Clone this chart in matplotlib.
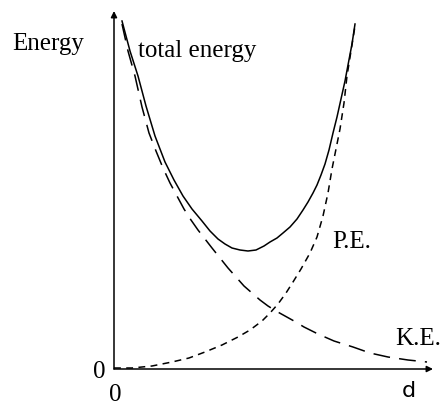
import matplotlib.pyplot as plt

# curves (d, energy)
ke_d = [0.08, 0.14, 0.21, 0.28, 0.35, 0.42, 0.49, 0.56, 0.63, 0.70, 0.77, 0.84, 0.91,
        0.98, 1.06, 1.14, 1.22, 1.30, 1.38, 1.46, 1.54, 1.62, 1.71, 1.80, 1.90, 2.04,
        2.20, 2.39, 2.56, 2.74, 2.94, 3.13]
ke_e = [3.45, 3.18, 2.93, 2.62, 2.36, 2.18, 2.01, 1.86, 1.73, 1.60, 1.49, 1.39, 1.30,
        1.21, 1.11, 1.01, 0.92, 0.83, 0.76, 0.69, 0.63, 0.58, 0.53, 0.48, 0.42, 0.35,
        0.28, 0.22, 0.16, 0.12, 0.09, 0.07]

pe_d = [0.00, 0.18, 0.38, 0.58, 0.75, 0.91, 1.08, 1.24, 1.36, 1.48, 1.56, 1.64, 1.72,
        1.79, 1.87, 1.96, 2.03, 2.09, 2.14, 2.18, 2.22, 2.26, 2.30, 2.33, 2.37, 2.41]
pe_e = [0.01, 0.01, 0.03, 0.07, 0.11, 0.17, 0.24, 0.32, 0.39, 0.48, 0.56, 0.65, 0.76,
        0.87, 1.00, 1.16, 1.32, 1.53, 1.76, 2.00, 2.20, 2.40, 2.66, 2.93, 3.18, 3.43]

tot_d = [0.08, 0.16, 0.24, 0.32, 0.41, 0.51, 0.60, 0.69, 0.78, 0.88, 0.96, 1.04, 1.11,
         1.18, 1.26, 1.34, 1.42, 1.50, 1.56, 1.63, 1.69, 1.76, 1.83, 1.89, 1.94, 1.99,
         2.03, 2.07, 2.11, 2.15, 2.19, 2.23, 2.27, 2.31, 2.34, 2.38, 2.41]
tot_e = [3.48, 3.18, 2.93, 2.63, 2.33, 2.07, 1.89, 1.73, 1.60, 1.48, 1.38, 1.30, 1.25,
         1.21, 1.19, 1.18, 1.19, 1.23, 1.27, 1.31, 1.36, 1.42, 1.50, 1.59, 1.67, 1.76,
         1.84, 1.94, 2.05, 2.19, 2.36, 2.52, 2.70, 2.88, 3.04, 3.25, 3.45]

fig = plt.figure(figsize=(4.42, 4.02), dpi=100)
ax = fig.add_axes([0, 0, 1, 1])
ax.set_xlim(-1.14, 3.28)
ax.set_ylim(-0.32, 3.70)
ax.axis('off')

# axes with arrow heads
arr = dict(arrowstyle='-|>', lw=1.1, color='k', mutation_scale=9, shrinkA=0, shrinkB=0)
ax.annotate('', xy=(3.19, 0), xytext=(0, 0), arrowprops=arr)
ax.annotate('', xy=(0, 3.58), xytext=(0, 0), arrowprops=arr)

ax.plot(tot_d, tot_e, color='k', lw=1.1)
ax.plot(ke_d, ke_e, color='k', lw=1.1, linestyle=(0, (11, 6)))
ax.plot(pe_d, pe_e, color='k', lw=1.1, linestyle=(0, (4.5, 3.5)))

serif = dict(family='Liberation Serif', fontsize=18, va='baseline')
ax.text(-1.02, 3.20, 'Energy', ha='left', **serif)
ax.text(0.24, 3.13, 'total energy', ha='left', **serif)
ax.text(2.18, 1.22, 'P.E.', ha='left', **serif)
ax.text(2.81, 0.25, 'K.E.', ha='left', **serif)
ax.text(-0.145, -0.08, '0', ha='center', **serif)
ax.text(0.01, -0.31, '0', ha='center', **serif)
ax.text(2.95, -0.27, 'd', ha='center', va='baseline', fontsize=16)

fig.savefig('out.png', dpi=100)
plt.close(fig)
